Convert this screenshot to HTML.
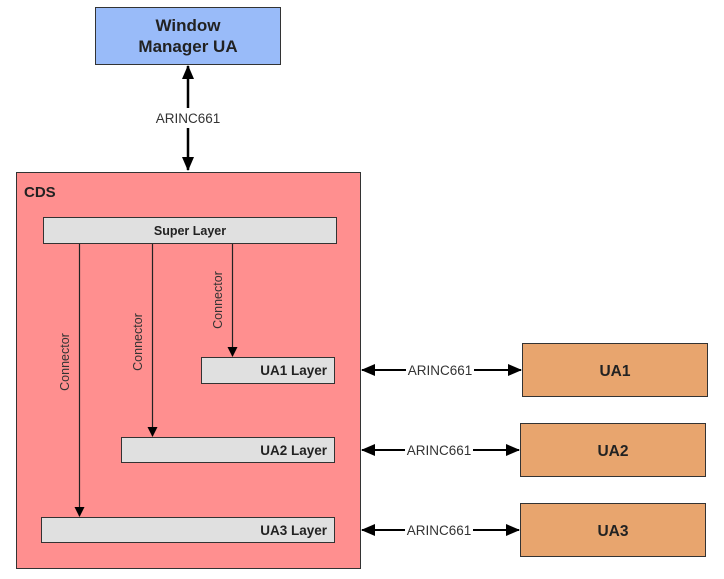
<!DOCTYPE html>
<html><head><style>
html,body{margin:0;padding:0;background:#fff;}
svg{display:block;}
text{font-family:"Liberation Sans",Arial,sans-serif;}
</style></head><body>
<svg width="724" height="579" viewBox="0 0 724 579" xmlns="http://www.w3.org/2000/svg">
<defs>
<marker id="ah" markerWidth="10" markerHeight="10" refX="9" refY="5" orient="auto" markerUnits="userSpaceOnUse">
<path d="M0,0 L10,5 L0,10 z" fill="#000"/></marker>
<marker id="as" markerWidth="14" markerHeight="12" refX="13" refY="6" orient="auto-start-reverse" markerUnits="userSpaceOnUse">
<path d="M0,0 L14,6 L0,12 z" fill="#000"/></marker>
</defs>
<rect x="95.5" y="7.5" width="185" height="57" fill="#99bbf9" stroke="#333" stroke-width="1"/>
<text x="188" y="31" font-size="17" font-weight="bold" text-anchor="middle" fill="#222">Window</text>
<text x="188" y="52" font-size="17" font-weight="bold" text-anchor="middle" fill="#222">Manager UA</text>
<line x1="188" y1="66" x2="188" y2="108" stroke="#000" stroke-width="2.5" marker-start="url(#as)"/>
<line x1="188" y1="128" x2="188" y2="170" stroke="#000" stroke-width="2.5" marker-end="url(#as)"/>
<text x="188" y="123" font-size="13.5" text-anchor="middle" fill="#333">ARINC661</text>
<rect x="16.5" y="172.5" width="344" height="396" fill="#ff8f8f" stroke="#333" stroke-width="1"/>
<text x="24" y="197" font-size="15" font-weight="bold" fill="#222">CDS</text>
<rect x="43.5" y="217.5" width="293" height="26" fill="#e0e0e0" stroke="#333"/>
<text x="190" y="235" font-size="12.5" font-weight="bold" text-anchor="middle" fill="#222">Super Layer</text>
<rect x="201.5" y="357.5" width="133" height="26" fill="#e0e0e0" stroke="#333"/>
<text x="327" y="375" font-size="13.5" font-weight="bold" text-anchor="end" fill="#222">UA1 Layer</text>
<rect x="121.5" y="437.5" width="213" height="25" fill="#e0e0e0" stroke="#333"/>
<text x="327" y="455" font-size="13.5" font-weight="bold" text-anchor="end" fill="#222">UA2 Layer</text>
<rect x="41.5" y="517.5" width="293" height="25" fill="#e0e0e0" stroke="#333"/>
<text x="327" y="535" font-size="13.5" font-weight="bold" text-anchor="end" fill="#222">UA3 Layer</text>
<line x1="79.5" y1="244" x2="79.5" y2="516" stroke="#222" stroke-width="1.2" marker-end="url(#ah)"/>
<line x1="152.5" y1="244" x2="152.5" y2="436" stroke="#222" stroke-width="1.2" marker-end="url(#ah)"/>
<line x1="232.5" y1="244" x2="232.5" y2="356" stroke="#222" stroke-width="1.2" marker-end="url(#ah)"/>
<text transform="translate(69,362) rotate(-90)" font-size="12.5" text-anchor="middle" fill="#333">Connector</text>
<text transform="translate(142,342) rotate(-90)" font-size="12.5" text-anchor="middle" fill="#333">Connector</text>
<text transform="translate(222,300) rotate(-90)" font-size="12.5" text-anchor="middle" fill="#333">Connector</text>
<rect x="522.5" y="343.5" width="185" height="53" fill="#e8a56e" stroke="#333"/>
<text x="615" y="376" font-size="15.5" font-weight="bold" text-anchor="middle" fill="#222">UA1</text>
<rect x="520.5" y="423.5" width="185" height="53" fill="#e8a56e" stroke="#333"/>
<text x="613" y="456" font-size="15.5" font-weight="bold" text-anchor="middle" fill="#222">UA2</text>
<rect x="520.5" y="503.5" width="185" height="53" fill="#e8a56e" stroke="#333"/>
<text x="613" y="536" font-size="15.5" font-weight="bold" text-anchor="middle" fill="#222">UA3</text>
<g stroke="#000" stroke-width="2">
<line x1="362" y1="370" x2="406" y2="370" marker-start="url(#as)"/>
<line x1="474" y1="370" x2="521" y2="370" marker-end="url(#as)"/>
<line x1="362" y1="450" x2="405" y2="450" marker-start="url(#as)"/>
<line x1="473" y1="450" x2="519" y2="450" marker-end="url(#as)"/>
<line x1="362" y1="530" x2="405" y2="530" marker-start="url(#as)"/>
<line x1="473" y1="530" x2="519" y2="530" marker-end="url(#as)"/>
</g>
<text x="440" y="375" font-size="13.5" text-anchor="middle" fill="#333">ARINC661</text>
<text x="439" y="455" font-size="13.5" text-anchor="middle" fill="#333">ARINC661</text>
<text x="439" y="535" font-size="13.5" text-anchor="middle" fill="#333">ARINC661</text>
</svg>
</body></html>
